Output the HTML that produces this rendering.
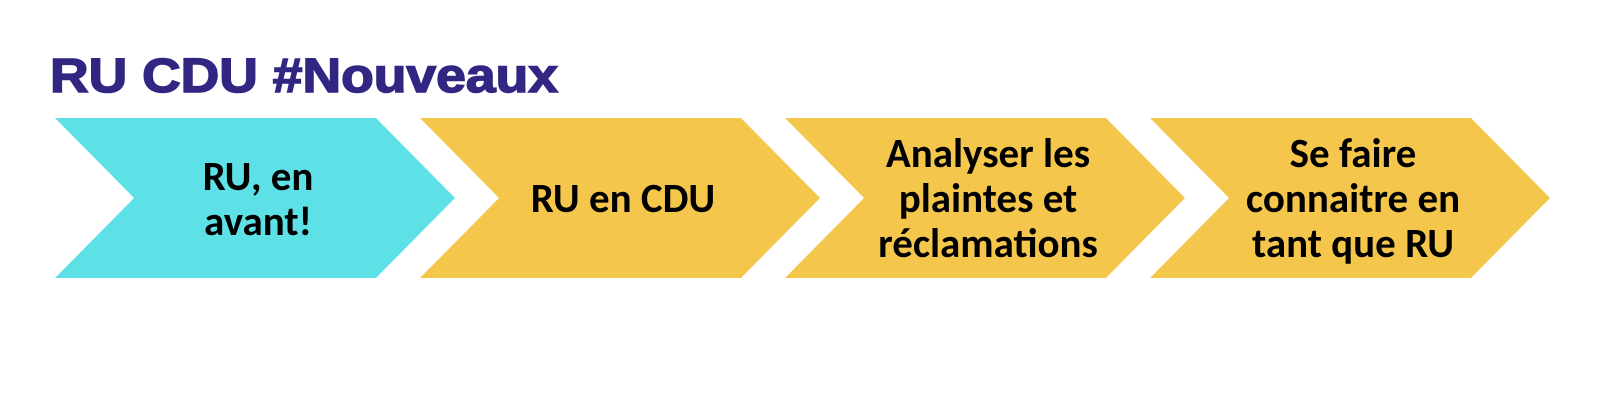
<!DOCTYPE html>
<html><head><meta charset="utf-8"><style>
html,body{margin:0;padding:0;background:#fff;}
svg{display:block;}
.t{font-family:"Calibri","Carlito","Liberation Sans",sans-serif;font-weight:bold;font-size:41px;fill:#000;text-anchor:middle;}
</style></head><body>
<svg width="1600" height="400" viewBox="0 0 1600 400" xmlns="http://www.w3.org/2000/svg">
<text x="50" y="92" font-family="Liberation Sans, sans-serif" font-weight="bold" font-size="48" fill="#312783" stroke="#312783" stroke-width="1.5" textLength="508" lengthAdjust="spacingAndGlyphs">RU CDU #Nouveaux</text>
<polygon points="55,118 376,118 455,198 376,278 55,278 134,198" fill="#5ee1e6"/>
<polygon points="420,118 741,118 820,198 741,278 420,278 499,198" fill="#f4c64c"/>
<polygon points="785,118 1106,118 1185,198 1106,278 785,278 864,198" fill="#f4c64c"/>
<polygon points="1150,118 1471,118 1550,198 1471,278 1150,278 1229,198" fill="#f4c64c"/>
<text class="t" x="258" y="190">RU, en</text>
<text class="t" x="258" y="235">avant!</text>
<text class="t" x="623" y="212">RU en CDU</text>
<text class="t" x="988" y="167">Analyser les</text>
<text class="t" x="988" y="212">plaintes et</text>
<text class="t" x="988" y="257">réclamations</text>
<text class="t" x="1353" y="167">Se faire</text>
<text class="t" x="1353" y="212">connaitre en</text>
<text class="t" x="1353" y="257">tant que RU</text>
</svg>
</body></html>
